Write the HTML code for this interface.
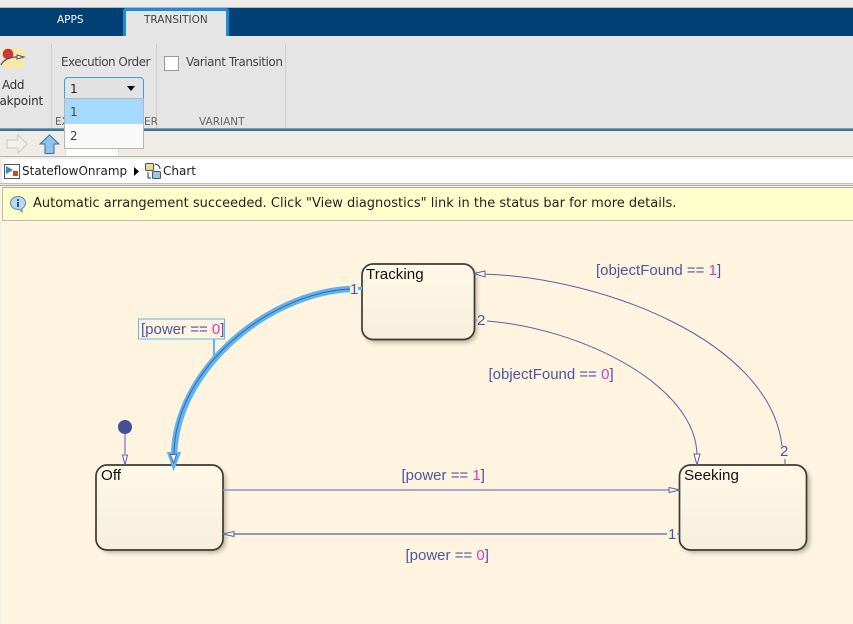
<!DOCTYPE html>
<html><head><meta charset="utf-8"><style>
html,body{margin:0;padding:0;background:#fef4e0}
#p{position:relative;width:853px;height:624px;overflow:hidden;background:#fef4e0;font-family:"DejaVu Sans",sans-serif}
#p>div{position:absolute}
.t{white-space:nowrap;line-height:14px}
</style></head><body><div id="p">
<div style="left:0;top:0;width:853px;height:7px;background:#ececec"></div>
<div style="left:0;top:7px;width:853px;height:1px;background:#b4b4b4"></div>
<div style="left:0;top:8px;width:853px;height:28px;background:#004074"></div>
<div class="t" style="left:57px;top:13px;font-size:10.5px;color:#fff">APPS</div>
<div style="left:123px;top:8px;width:100px;height:28px;background:#e5e5e5;border:3px solid #1a8dd2;border-bottom:0;border-radius:3px 3px 0 0"></div>
<div class="t" style="left:144px;top:13px;font-size:10.5px;color:#444">TRANSITION</div>
<div style="left:0;top:36px;width:853px;height:92px;background:#e5e5e5"></div>
<div style="left:51px;top:44px;width:1px;height:84px;background:#cfcfcf"></div>
<div style="left:156px;top:44px;width:1px;height:84px;background:#cfcfcf"></div>
<div style="left:285px;top:44px;width:1px;height:84px;background:#cfcfcf"></div>
<div style="left:2px;top:48px;width:22px;height:20px;background:#fbe7a8"></div>
<svg style="position:absolute;left:0;top:46px" width="30" height="26"><circle cx="8" cy="8" r="5" fill="#d8323c" stroke="#a33" stroke-width=".6"/><path d="M1,19 C4,13 10,11 17,11" fill="none" stroke="#44506e" stroke-width="1.200"/><path d="M17,9 L24,11 L17,13Z" fill="#f4f0e0" stroke="#44506e"/></svg>
<div class="t" style="left:2px;top:78px;font-size:12px;letter-spacing:-.4px;color:#333">Add</div>
<div class="t" style="left:-1px;top:94px;font-size:12px;letter-spacing:-.2px;color:#333;width:44px;overflow:hidden;direction:rtl">akpoint</div>
<div class="t" style="left:61px;top:55px;font-size:12px;letter-spacing:-.53px;color:#444">Execution Order</div>
<div style="left:164px;top:56px;width:13px;height:13px;background:#fff;border:1px solid #999"></div>
<div class="t" style="left:186px;top:55px;font-size:12px;letter-spacing:-.44px;color:#444">Variant Transition</div>
<div class="t" style="left:55px;top:115px;font-size:10.500px;color:#666">EX</div>
<div class="t" style="left:144px;top:115px;font-size:10.500px;color:#666">ER</div>
<div class="t" style="left:199px;top:115px;font-size:10.500px;color:#666">VARIANT</div>
<div style="left:64px;top:77px;width:78px;height:21px;background:#e2e2e2;border:1px solid #3ba0e0;border-radius:4px 4px 0 0"></div>
<div class="t" style="left:70px;top:82px;font-size:12px;color:#222">1</div>
<div style="left:127px;top:86px;width:0;height:0;border:4px solid transparent;border-top:5px solid #000;border-bottom:0"></div>
<div style="left:0;top:128px;width:853px;height:1px;background:#999"></div>
<div style="left:0;top:129px;width:853px;height:2px;background:#2b74ac"></div>
<div style="left:0;top:131px;width:853px;height:25px;background:#efece6"></div>
<div style="left:65px;top:148px;width:54px;height:9px;background:#fff;border:1px solid #ddd;box-sizing:border-box"></div>
<svg style="position:absolute;left:6px;top:134px" width="56" height="21"><path d="M1,6 H12 V1 L21,10 L12,19 V14 H1Z" fill="#f3f1ec" stroke="#c9c9c5"/><path d="M34,10 L43.500,1 L53,10 H48 V19.500 H39 V10Z" fill="#8fc3ea" stroke="#3b6f9f"/></svg>
<div style="left:64px;top:98px;width:80px;height:51px;background:#f9f9f9;border:1px solid #b5b5b5;box-sizing:border-box"></div>
<div style="left:65px;top:99px;width:78px;height:25px;background:#a6d9ff"></div>
<div class="t" style="left:70px;top:105px;font-size:12px;color:#444">1</div>
<div class="t" style="left:70px;top:129px;font-size:12px;color:#444">2</div>
<div style="left:0;top:156px;width:853px;height:1px;background:#b5b5b5"></div>
<div style="left:0;top:157px;width:853px;height:2px;background:#efece6"></div>
<div style="left:2px;top:159px;width:851px;height:24px;background:#fff"></div>
<div style="left:0;top:159px;width:2px;height:27px;background:#efece6"></div>
<div style="left:0;top:183px;width:853px;height:3px;background:#e8e6e1;border-top:1px solid #c0c0c0;border-bottom:1px solid #aaa;box-sizing:border-box"></div>
<svg style="position:absolute;left:3px;top:161px" width="160" height="20"><rect x="1.500" y="3.500" width="15" height="14" fill="#fff" stroke="#555"/><path d="M3,5 L10,9 L3,13Z" fill="#2f8dc4"/><rect x="10" y="10" width="5" height="5" fill="#d9491f"/><path d="M131,6 L136,10.500 L131,15Z" fill="#000"/><rect x="142.500" y="2.500" width="8" height="7" rx="1" fill="#f5d78c" stroke="#456"/><rect x="149.500" y="10.500" width="8" height="7" rx="1" fill="#9cc7e4" stroke="#456"/><path d="M152,3 Q157,4 157,8 M145,11 V17 H148" fill="none" stroke="#333"/></svg>
<div class="t" style="left:22px;top:164px;font-size:12px;color:#222">StateflowOnramp</div>
<div class="t" style="left:163px;top:164px;font-size:12px;color:#222">Chart</div>
<div style="left:2px;top:187px;width:851px;height:34px;background:#ffffcc;border-top:1px solid #aaa;border-bottom:1px solid #bbb;border-left:1px solid #bbb;box-sizing:border-box"></div>
<svg style="position:absolute;left:9px;top:195px" width="20" height="18"><ellipse cx="9" cy="8" rx="7.500" ry="6.500" fill="#bcd8ee" stroke="#5c86ad"/><path d="M10,14 L13,17 L13,13" fill="#bcd8ee" stroke="#5c86ad"/><rect x="8" y="7" width="2" height="5" fill="#1c5c94"/><rect x="8" y="4" width="2" height="2" fill="#1c5c94"/></svg>
<div class="t" style="left:33px;top:197px;font-size:13px;color:#222">Automatic arrangement succeeded. Click "View diagnostics" link in the status bar for more details.</div>
<div style="left:0;top:221px;width:1px;height:403px;background:#eee"></div>

<svg style="position:absolute;left:0;top:0" width="853" height="624">
<defs>
<linearGradient id="g" x1="0" y1="0" x2="0" y2="1"><stop offset="0" stop-color="#fff8e8"/><stop offset="1" stop-color="#f7efdc"/></linearGradient>
<filter id="s" x="-10%" y="-10%" width="125%" height="125%"><feGaussianBlur stdDeviation="2"/></filter>
</defs>
<g fill="#8a8468" opacity=".55" filter="url(#s)">
<rect x="364" y="267" width="113" height="76" rx="12"/>
<rect x="99" y="468" width="127" height="85" rx="12"/>
<rect x="682" y="468" width="128" height="85" rx="12"/>
</g>
<g fill="url(#g)" stroke="#3c3a36" stroke-width="1.700">
<rect x="362" y="264" width="112.500" height="75.500" rx="11"/>
<rect x="96" y="465" width="127" height="85" rx="11"/>
<rect x="679.500" y="465" width="127" height="85" rx="11"/>
</g>
<g fill="none" stroke="#5ab5f0">
<path d="M214,338 V360" stroke-width="2"/>
<path d="M350,289 C268,293 174,370 174,458" stroke-width="6.500"/>
<path d="M167.500,452.500 H180.500 L173.500,470Z" fill="#5ab5f0" stroke-width="1"/>
</g>
<g fill="none" stroke="#5a5fa8" stroke-width="1">
<path d="M350,289 C268,293 174,370 174,455" stroke="#54599f" stroke-width="1"/>
<path d="M487,321 C580,328 697,385 697,456"/>
<path d="M482,274 C600,277 770,340 782,446"/>
<path d="M125,433 V454" stroke="#8f92c4" stroke-width="1.500"/>
<path d="M223,490 H669" stroke="#8f92c4" stroke-width="1.500"/>
<path d="M234,534 H667" stroke-width="1.200"/>
<path d="M474,320 L477,320"/>
<path d="M785,459 V465"/>
<path d="M677,534 H680"/>
</g>
<g fill="#fff8e8" stroke="#5a5fa8" stroke-width="1">
<path d="M170.500,454.500 H176.500 L173.500,463Z"/>
<path d="M694,454 H700 L697,465Z"/>
<path d="M122.500,455 H127.500 L125,465Z"/>
<path d="M669,487.500 V492.500 L680,490Z"/>
<path d="M234,531.500 V536.500 L223,534Z"/>
<path d="M485,271 V277 L474,273.500Z"/>
</g>
<circle cx="125" cy="427" r="7" fill="#454f98"/>
<rect x="138.500" y="319" width="86" height="20" fill="#fef4e0" stroke="#5ab8f4" stroke-width="1"/>
<rect x="358" y="287" width="4" height="3" fill="#5ab5f0"/>
<g font-family="'Liberation Sans',sans-serif" font-size="15.200" fill="#111">
<text x="366" y="279">Tracking</text>
<text x="101" y="480">Off</text>
<text x="684" y="480">Seeking</text>
</g>
<g font-family="'Liberation Sans',sans-serif" font-size="15" fill="#4f559f">
<text x="141" y="334">[power == <tspan fill="#d33cc4">0</tspan>]</text>
<text x="596" y="275">[objectFound == <tspan fill="#d33cc4">1</tspan>]</text>
<text x="488.500" y="379">[objectFound == <tspan fill="#d33cc4">0</tspan>]</text>
<text x="401.500" y="480">[power == <tspan fill="#d33cc4">1</tspan>]</text>
<text x="405.500" y="560">[power == <tspan fill="#d33cc4">0</tspan>]</text>
<text x="350" y="294">1</text>
<text x="477" y="325">2</text>
<text x="780" y="456">2</text>
<text x="668" y="539">1</text>
</g>
</svg>
</div></body></html>
